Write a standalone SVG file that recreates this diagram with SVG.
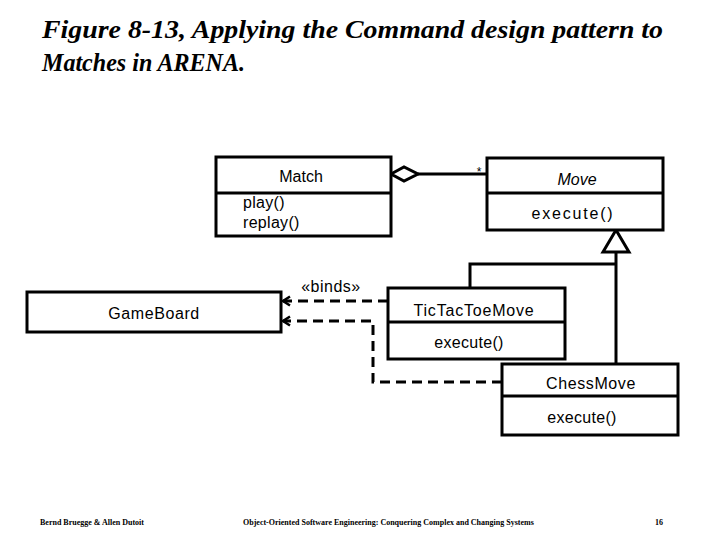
<svg xmlns="http://www.w3.org/2000/svg" width="720" height="540" viewBox="0 0 720 540">
<style>
.box{fill:#fff;stroke:#000;stroke-width:3}
.ln{fill:none;stroke:#000;stroke-width:3}
.dash{fill:none;stroke:#000;stroke-width:3;stroke-dasharray:10,6}
.t{font-family:"Liberation Sans",Arial,sans-serif;font-size:16px;fill:#000}
.c{text-anchor:middle}
.title{font-family:"Liberation Serif","Times New Roman",serif;font-style:italic;font-weight:bold;font-size:26px;fill:#000}
.foot{font-family:"Liberation Serif","Times New Roman",serif;font-size:8px;font-weight:bold;fill:#000}
</style>
<defs>
<marker id="open" markerWidth="12" markerHeight="12" refX="10" refY="6" orient="auto" markerUnits="userSpaceOnUse">
<path d="M3,1.5 L10,6 L3,10.5" fill="none" stroke="#000" stroke-width="2.5"/>
</marker>
</defs>
<rect width="720" height="540" fill="#fff"/>
<text class="title" x="42" y="38" textLength="621" lengthAdjust="spacingAndGlyphs">Figure 8-13, Applying the Command design pattern to</text>
<text class="title" x="42" y="71" textLength="203" lengthAdjust="spacingAndGlyphs">Matches in ARENA.</text>

<g id="connectors">
<line class="ln" x1="418" y1="174" x2="487" y2="174"/>
<polygon points="391,174 404,167 418,174 404,181" fill="#fff" stroke="#000" stroke-width="3"/>
<text class="t" x="479" y="176" style="font-size:12px" text-anchor="middle">*</text>
<polyline class="ln" points="616,252 616,363"/>
<polyline class="ln" points="616,264 470,264 470,288"/>
<polygon points="616,230 603,252 629,252" fill="#fff" stroke="#000" stroke-width="3"/>
<polyline class="dash" points="388,301 283,301" marker-end="url(#open)"/>
<polyline class="dash" points="502,382 373,382 373,321 283,321" marker-end="url(#open)"/>
<text class="t c" x="331" y="292" letter-spacing="0.5">«binds»</text>
</g>

<g id="Match">
<rect class="box" x="216" y="157" width="175" height="79"/>
<line class="ln" x1="216" y1="193" x2="391" y2="193"/>
<text class="t c" x="301" y="182">Match</text>
<text class="t" x="243" y="208" letter-spacing="0.3">play()</text>
<text class="t" x="243" y="228" letter-spacing="0.3">replay()</text>
</g>

<g id="Move">
<rect class="box" x="487" y="158" width="176" height="72"/>
<line class="ln" x1="487" y1="193" x2="663" y2="193"/>
<text class="t c" x="577" y="185" font-style="italic">Move</text>
<text class="t c" x="573" y="219" letter-spacing="1.8">execute()</text>
</g>

<g id="GameBoard">
<rect class="box" x="27" y="292" width="254" height="40"/>
<text class="t c" x="154" y="319" letter-spacing="0.6">GameBoard</text>
</g>

<g id="TicTacToeMove">
<rect class="box" x="388" y="288" width="177" height="71"/>
<line class="ln" x1="388" y1="322" x2="565" y2="322"/>
<text class="t c" x="474" y="316" letter-spacing="0.8">TicTacToeMove</text>
<text class="t c" x="469" y="348" letter-spacing="0.3">execute()</text>
</g>

<g id="ChessMove">
<rect class="box" x="502" y="364" width="176" height="71"/>
<line class="ln" x1="502" y1="396" x2="678" y2="396"/>
<text class="t c" x="591" y="389" letter-spacing="0.6">ChessMove</text>
<text class="t c" x="582" y="423" letter-spacing="0.3">execute()</text>
</g>

<text class="foot" x="40" y="525">Bernd Bruegge &amp; Allen Dutoit</text>
<text class="foot" x="243" y="525">Object-Oriented Software Engineering: Conquering Complex and Changing Systems</text>
<text class="foot" x="655" y="525">16</text>
</svg>
